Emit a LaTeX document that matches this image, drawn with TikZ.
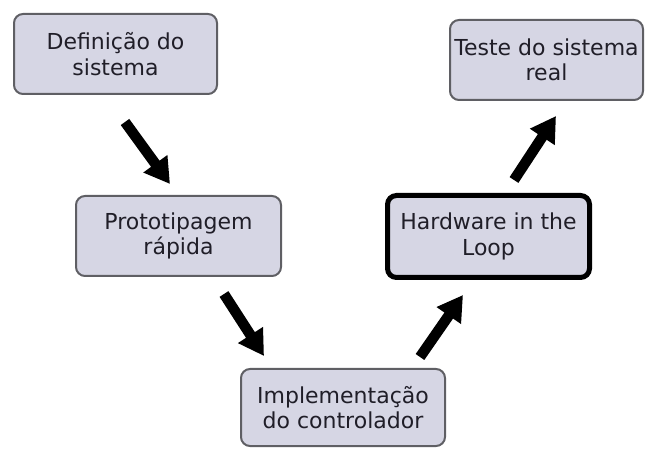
\documentclass[tikz,border=0pt]{standalone}
\usepackage{fontspec}
\setmainfont{DejaVu Sans}
\usetikzlibrary{arrows.meta}
\definecolor{boxfill}{RGB}{214,214,228}
\definecolor{boxline}{RGB}{95,95,100}
\definecolor{txt}{RGB}{32,30,40}
\tikzset{
  stage/.style={draw=boxline, line width=2pt, fill=boxfill, rounded corners=9pt,
    align=center, text=txt, inner sep=0pt,
    font=\fontsize{22}{25.5}\selectfont},
  hilstage/.style={stage, draw=black, line width=5pt},
  bigarrow/.style={line width=10.5pt, black, -{Triangle[width=28pt,length=25pt]}}
}
\begin{document}
\begin{tikzpicture}[x=1pt,y=-1pt]
\useasboundingbox (0,0) rectangle (646,449);
\node[stage, minimum width=203pt, minimum height=80pt] (def) at (115.5,54) {Definição do\\sistema};
\node[stage, minimum width=193pt, minimum height=80pt] (teste) at (546.5,60) {Teste do sistema\\real};
\node[stage, minimum width=205pt, minimum height=80pt] (proto) at (178.5,236) {Prototipagem\\rápida};
\node[hilstage, minimum width=202pt, minimum height=82pt] (hil) at (488.5,236.5) {Hardware in the\\Loop};
\node[stage, minimum width=204pt, minimum height=77pt] (impl) at (343,407.5) {Implementação\\do controlador};
\coordinate (a1s) at (125,122); \coordinate (a1e) at (170,184);
\coordinate (a2s) at (224,294); \coordinate (a2e) at (264,356);
\coordinate (a3s) at (420,357); \coordinate (a3e) at (463,295);
\coordinate (a4s) at (514,180); \coordinate (a4e) at (556,116);
\draw[bigarrow] (a1s) -- (a1e);
\draw[bigarrow] (a2s) -- (a2e);
\draw[bigarrow] (a3s) -- (a3e);
\draw[bigarrow] (a4s) -- (a4e);
\end{tikzpicture}
\end{document}
